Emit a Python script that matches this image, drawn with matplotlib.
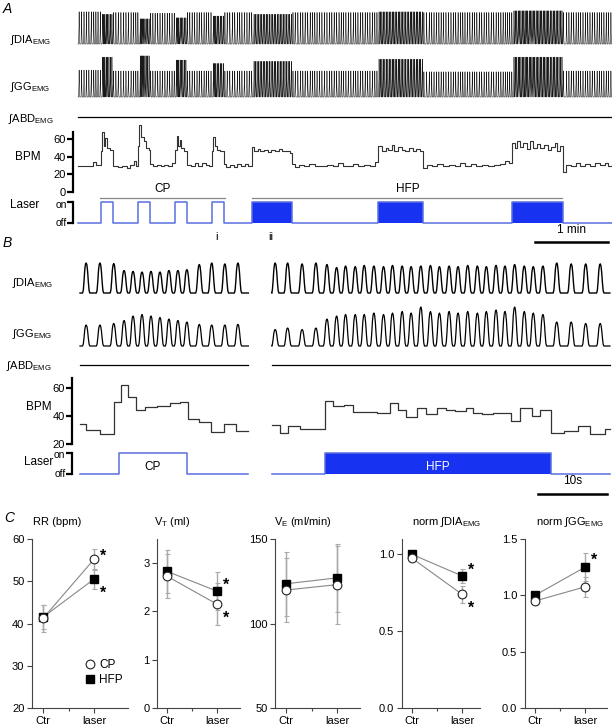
import numpy as np
import matplotlib
matplotlib.use("Agg")
import matplotlib.pyplot as plt
import matplotlib.transforms as mtransforms
from matplotlib.lines import Line2D

W, H = 612, 727

plt.rcParams.update({
    "font.family": ["Liberation Sans", "DejaVu Sans"],
    "font.size": 8,
    "mathtext.fontset": "custom",
    "mathtext.rm": "Liberation Sans",
    "mathtext.it": "Liberation Sans:italic",
    "mathtext.bf": "Liberation Sans:bold",
})

# ---------------- panel A data (time in s) ----------------
A_T_END = 439
A_BPM_T = [0, 12, 15,
           19, 20, 21.5, 22.5, 24, 26,
           29, 33, 36, 40, 43, 46, 48,
           49.5, 50.5, 52, 54, 56, 58,
           59.5, 62, 65, 68, 71, 74, 77,
           80, 81, 82.5, 83.5, 85, 87,
           90, 93, 96, 99, 102, 105, 108,
           110, 111, 112.5, 114, 117,
           120, 122, 125, 128, 131, 134, 137, 140,
           143, 145, 148, 150, 153, 156, 159, 162, 165, 168, 171, 174,
           176, 178, 182, 186, 190, 195, 200, 205, 210, 214, 218, 222, 226, 230, 235, 240, 244,
           247, 250, 253, 255, 258, 260, 263, 266, 269, 272, 275, 278, 281,
           284, 287, 291, 295, 300, 305, 310, 314, 318, 323, 327, 332, 337, 342, 347, 351, 354,
           357, 359, 361, 363, 366, 369, 372, 374, 377, 380, 383, 386, 389, 392, 394, 396,
           399, 401, 405, 409, 413, 417, 421, 425, 429, 433, 436]
A_BPM_V = [30, 34, 31,
           47, 68, 52, 61, 50, 48,
           30, 28, 30, 27, 31, 35, 30,
           52, 76, 62, 58, 50, 48,
           32, 29, 31, 29, 31, 30, 33,
           48, 63, 52, 59, 50, 47,
           31, 30, 33, 30, 33, 31, 30,
           47, 62, 52, 48, 47,
           32, 28, 31, 28, 32, 29, 32, 30,
           51, 47, 49, 46, 48, 45, 48, 46, 49, 46, 47, 44,
           32, 28, 31, 29, 32, 30, 29, 31, 30, 33, 30, 29, 32, 30, 31, 30, 34,
           52, 47, 50, 48, 53, 47, 51, 48, 47, 50, 47, 49, 46,
           27, 31, 30, 32, 29, 31, 30, 33, 30, 32, 30, 31, 30, 31, 32, 35, 33,
           55, 50, 58, 51, 56, 49, 58, 50, 54, 50, 53, 48, 51, 55, 47, 52,
           23, 31, 30, 33, 30, 32, 30, 33, 31, 33, 30]

A_CP_ON = [19, 49.5, 80, 110]
A_CP_OFF = [29, 59.5, 90, 120]
A_HFP_ON = [143, 247, 357]
A_HFP_OFF = [176, 284, 399]

# burst envelopes (relative amplitude), step changes at laser on/off
A_ENV_T = [0, 19, 29, 49.5, 59.5, 80, 90, 110, 120, 143, 176, 247, 284, 357, 399]
A_DIA_ENV = [0.92, 0.85, 0.9, 0.72, 0.88, 0.75, 0.9, 0.8, 0.9, 0.85, 0.9, 0.92, 0.9, 0.95, 0.9]
A_GG_ENV = [0.64, 0.95, 0.62, 0.98, 0.62, 0.88, 0.62, 0.8, 0.62, 0.85, 0.62, 0.9, 0.6, 0.95, 0.62]

# ---------------- panel B data (time in s) ----------------
B_LEFT = (0, 24.4)
B_RIGHT = (27.8, 76.8)
B_DIA_T = [0.9, 2.9, 4.9, 6.4, 7.7, 9.0, 10.3, 11.6, 12.9, 14.2, 15.5, 17.3, 19.1, 21.0, 22.9,
           28.3, 30.1, 32.2, 34.2,
           35.8, 37.2, 38.5, 39.9, 41.2, 42.6, 44.0, 45.3, 46.7, 48.0, 49.4, 50.8,
           52.1, 53.5, 54.8, 56.2, 57.6, 58.9, 60.3, 61.6, 63.0, 64.4, 65.7, 67.1,
           69.1, 71.2, 73.3, 75.4]
B_DIA_A = [1.0, 1.0, 0.98, 0.75, 0.72, 0.7, 0.72, 0.7, 0.75, 0.75, 0.78, 0.95, 1.0, 0.97, 1.0,
           1.0, 1.0, 0.97, 1.0,
           0.95, 0.85, 0.9, 0.88, 0.92, 0.9, 0.88, 0.92, 0.9, 0.88, 0.9, 0.92,
           0.88, 0.9, 0.88, 0.92, 0.9, 0.88, 0.92, 0.9, 0.95, 0.9, 0.88, 0.9,
           1.0, 0.97, 0.97, 0.97]
B_GG_A = [0.7, 0.7, 0.75, 0.85, 1.0, 1.05, 1.0, 0.95, 0.9, 0.85, 0.8, 0.72, 0.7, 0.7, 0.72,
          0.55, 0.6, 0.55, 0.6,
          0.9, 1.0, 1.05, 1.05, 1.05, 1.1, 1.05, 1.1, 1.15, 1.1, 1.3, 1.15,
          1.1, 1.15, 1.1, 1.15, 1.1, 1.15, 1.2, 1.15, 1.3, 1.15, 1.1, 1.05,
          0.8, 0.8, 0.75, 0.75]

B_BPM_LT = [0, 0.9, 2.9, 4.9, 6.0, 6.9, 8.1, 9.4, 11.1, 13.1, 14.5, 15.6, 17.3, 19.0, 20.9, 22.6, 24.4]
B_BPM_LV = [34, 30, 27.4, 50.2, 62.1, 53.8, 44.3, 46.7, 47.1, 49.0, 50.2, 37.6, 35.9, 28.6, 34.0, 29.3, 29.3]
B_BPM_RT = [27.8, 29.0, 30.2, 31.9, 35.5, 36.7, 38.2, 39.5, 43.0, 44.9, 46.1, 47.3, 48.8, 50.2, 51.7,
            53.1, 54.3, 56.0, 57.0, 58.2, 59.9, 62.4, 63.8, 65.5, 66.7, 68.2, 70.1, 72.2, 73.9, 76.1, 76.8]
B_BPM_RV = [33.3, 28.1, 32.9, 30.9, 50.7, 47.1, 47.9, 42.9, 42.4, 49.5, 44.1, 39.3, 45.9, 41.2, 45.9,
            44.1, 43.6, 45.9, 42.4, 41.2, 42.4, 36.4, 45.9, 40.0, 44.1, 28.1, 29.3, 32.9, 27.4, 30.5, 30.5]
B_CP = (5.65, 15.5)
B_HFP = (35.5, 68.3)

# normalised burst glyphs (peak-normalised); B = rounded hump, A = compressed spike
BURST_SHAPE = [0, 0.1, 0.4, 0.78, 0.96, 1.0, 0.93, 0.7, 0.35, 0.08, 0]
A_BURST_SHAPE = [0, 0.25, 0.38, 0.5, 1.0, 0.45, 0.32, 0.2, 0.08, 0]

# ---------------- panel C data ----------------
C_X = [0, 1]
RR_CP, RR_CP_E = [41.2, 55.2], [3.2, 2.5]
RR_HFP, RR_HFP_E = [41.5, 50.5], [2.8, 2.3]
VT_CP, VT_CP_E = [2.73, 2.15], [0.45, 0.43]
VT_HFP, VT_HFP_E = [2.83, 2.42], [0.45, 0.40]
VE_CP, VE_CP_E = [119.8, 123.0], [19, 23]
VE_HFP, VE_HFP_E = [123.5, 127.0], [19, 20]
DIA_CP, DIA_CP_E = [0.975, 0.74], [0.0, 0.055]
DIA_HFP, DIA_HFP_E = [1.0, 0.86], [0.0, 0.045]
GG_CP, GG_CP_E = [0.95, 1.075], [0.0, 0.09]
GG_HFP, GG_HFP_E = [1.0, 1.25], [0.0, 0.125]

LINE_BLUE = "#5b6fe0"
FILL_BLUE = "#1732f0"


def rect(x0, y0, x1, y1):
    return [x0 / W, 1 - y1 / H, (x1 - x0) / W, (y1 - y0) / H]


def step_lookup(ts, vs, t):
    i = np.searchsorted(ts, t, side="right") - 1
    return np.asarray(vs)[np.clip(i, 0, len(vs) - 1)]


def burst_wave(times, amps, dur, t0, t1, shape=BURST_SHAPE):
    shape = np.array(shape)
    u = np.linspace(-0.5, 0.5, len(shape))
    xs, ys = [t0], [0.0]
    for t, a in zip(times, amps):
        xs.extend(t + u * dur)
        ys.extend(a * shape)
    xs.append(t1)
    ys.append(0.0)
    return np.array(xs), np.array(ys)


def bursts_from_rate(ts, vs, t_end):
    out, t = [], 1.0
    while t < t_end - 0.6:
        out.append(t)
        t += 60.0 / step_lookup(ts, vs, t)
    return np.array(out)


def laser_line(ons, offs, t0, t1):
    xs, ys = [t0], [0]
    for a, b in zip(ons, offs):
        xs += [a, a, b, b]
        ys += [0, 1, 1, 0]
    xs.append(t1)
    ys.append(0)
    return xs, ys


def blank(ax, xlim, ylim=(0, 1)):
    ax.set_xlim(*xlim)
    ax.set_ylim(*ylim)
    ax.axis("off")


def side_axis(ax, ticks, labels, lo, hi, fs=8):
    for s in ["top", "right", "bottom"]:
        ax.spines[s].set_visible(False)
    ax.spines["left"].set_bounds(lo, hi)
    ax.spines["left"].set_linewidth(1.6)
    ax.set_xticks([])
    ax.set_yticks(ticks)
    ax.set_yticklabels(labels, fontsize=fs)
    ax.tick_params(axis="y", direction="out", length=4, width=1.6, pad=1)
    ax.patch.set_visible(False)


def laser_axis(ax):
    # bracket-style on/off axis; labels as text so they can sit a little apart
    side_axis(ax, [0, 1], ["", ""], 0, 1)
    tr = mtransforms.blended_transform_factory(ax.transAxes, ax.transData)
    lx = -6.5 / (ax.get_position().width * W)
    ax.text(lx, 1, "on", transform=mtransforms.offset_copy(tr, fig, y=-2.5, units="dots"),
            ha="right", va="center", fontsize=7.5)
    ax.text(lx, 0, "off", transform=tr, ha="right", va="center", fontsize=7.5)


fig = plt.figure(figsize=(W / 100, H / 100), dpi=100)

# ================= panel A =================
A_XL = (-4.1, A_T_END)
a_bt = bursts_from_rate(A_BPM_T, A_BPM_V, A_T_END)

ax = fig.add_axes(rect(73, 9, 612, 44))
x, y = burst_wave(a_bt, step_lookup(A_ENV_T, A_DIA_ENV, a_bt), 1.0, 0, A_T_END, A_BURST_SHAPE)
ax.plot(x, y, color="#1a1a1a", lw=0.4, clip_on=False)
blank(ax, A_XL)

ax = fig.add_axes(rect(73, 55, 612, 97))
x, y = burst_wave(a_bt, step_lookup(A_ENV_T, A_GG_ENV, a_bt), 1.0, 0, A_T_END, A_BURST_SHAPE)
ax.plot(x, y, color="#1a1a1a", lw=0.4, clip_on=False)
blank(ax, A_XL)

ax = fig.add_axes(rect(73, 112, 612, 122))
ax.plot([0, A_T_END], [0.5, 0.5], color="black", lw=0.9)
blank(ax, A_XL)

ax = fig.add_axes(rect(73, 132, 612, 192))
ax.step(A_BPM_T + [A_T_END], A_BPM_V + [A_BPM_V[-1]], where="post",
        color="#333333", lw=0.8, clip_on=False)
ax.set_xlim(*A_XL)
ax.set_ylim(0, 68)
side_axis(ax, [0, 20, 40, 60], ["0", "20", "40", "60"], 0, 68)

ax = fig.add_axes(rect(73, 202, 612, 223))
lx, ly = laser_line(A_CP_ON + A_HFP_ON, A_CP_OFF + A_HFP_OFF, 0, A_T_END)
for a, b in zip(A_HFP_ON, A_HFP_OFF):
    ax.fill_between([a, b], 0, 1, color=FILL_BLUE, lw=0)
ax.plot(lx, ly, color=LINE_BLUE, lw=1.1, clip_on=False)
ax.set_xlim(*A_XL)
ax.set_ylim(0, 1)
laser_axis(ax)

ax = fig.add_axes(rect(73, 180, 612, 200))
blank(ax, A_XL, (0, 1))
ax.plot([A_CP_ON[0] - 1, A_CP_OFF[-1] + 1], [0.1, 0.1], color="#888888", lw=0.9)
ax.plot([A_HFP_ON[0], A_HFP_OFF[-1] - 1.5], [0.1, 0.1], color="#888888", lw=0.9)
ax.text(np.mean([A_CP_ON[0], A_CP_OFF[-1]]), 0.55, "CP", ha="center", va="center", fontsize=8.5)
ax.text(np.mean([A_HFP_ON[0], A_HFP_OFF[-1]]), 0.55, "HFP", ha="center", va="center", fontsize=8.5)

ax = fig.add_axes(rect(73, 226, 612, 246))
blank(ax, A_XL, (0, 1))
ax.plot([375.5, 375.5 + 60], [0.2, 0.2], color="black", lw=1.8)
ax.text(375.5 + 30, 0.8, "1 min", ha="center", va="center", fontsize=8.5)
ax.text(114.2, 0.45, "i", ha="center", va="center", fontsize=8)
ax.text(158.6, 0.45, "ii", ha="center", va="center", fontsize=8)

fig.text(3 / W, 1 - 9 / H, "A", fontsize=10, style="italic", va="center")
fig.text(10 / W, 1 - 40 / H, "∫DIA$_\\mathrm{EMG}$", fontsize=8, va="center")
fig.text(10 / W, 1 - 87 / H, "∫GG$_\\mathrm{EMG}$", fontsize=8, va="center")
fig.text(8 / W, 1 - 119 / H, "∫ABD$_\\mathrm{EMG}$", fontsize=8, va="center")
fig.text(15 / W, 1 - 157 / H, "BPM", fontsize=8.5, va="center")
fig.text(10 / W, 1 - 205 / H, "Laser", fontsize=8.5, va="center")

# ================= panel B =================
B_XL = (-1.16, 77.1)
b_dia_t = np.array(B_DIA_T)
segs = [B_LEFT, B_RIGHT]

ax = fig.add_axes(rect(72, 263, 612, 293))
for s0, s1 in segs:
    m = (b_dia_t > s0) & (b_dia_t < s1)
    x, y = burst_wave(b_dia_t[m], np.array(B_DIA_A)[m], 1.05, s0, s1)
    ax.plot(x, y, color="black", lw=1.0, clip_on=False)
blank(ax, B_XL)

ax = fig.add_axes(rect(72, 316, 612, 346))
for s0, s1 in segs:
    m = (b_dia_t > s0) & (b_dia_t < s1)
    x, y = burst_wave(b_dia_t[m], np.array(B_GG_A)[m], 1.05, s0, s1)
    ax.plot(x, y, color="black", lw=0.9, clip_on=False)
blank(ax, B_XL)

ax = fig.add_axes(rect(72, 360, 612, 370))
for s0, s1 in segs:
    ax.plot([s0, s1], [0.5, 0.5], color="black", lw=0.9)
blank(ax, B_XL)

ax = fig.add_axes(rect(72, 378, 612, 444))
ax.step(B_BPM_LT, B_BPM_LV, where="post", color="#333333", lw=0.9)
ax.step(B_BPM_RT, B_BPM_RV, where="post", color="#333333", lw=0.9)
ax.set_xlim(*B_XL)
ax.set_ylim(20, 20 + 66 / 1.4)
side_axis(ax, [20, 40, 60], ["20", "40", "60"], 20, 20 + 66 / 1.4)

ax = fig.add_axes(rect(72, 453, 612, 474))
ax.fill_between(list(B_HFP), 0, 1, color=FILL_BLUE, lw=0)
for (s0, s1), (on, off) in zip(segs, [B_CP, B_HFP]):
    ax.plot([s0, on, on, off, off, s1], [0, 0, 1, 1, 0, 0], color=LINE_BLUE, lw=1.1, clip_on=False)
ax.text(np.mean(B_CP), 0.35, "CP", ha="center", va="center", fontsize=8.5)
ax.text(np.mean(B_HFP), 0.35, "HFP", ha="center", va="center", fontsize=8.5, color="white")
ax.set_xlim(*B_XL)
ax.set_ylim(0, 1)
laser_axis(ax)

ax = fig.add_axes(rect(72, 476, 612, 498))
blank(ax, B_XL, (0, 1))
ax.plot([66.4, 76.4], [0.2, 0.2], color="black", lw=1.8)
ax.text(71.4, 0.75, "10s", ha="center", va="center", fontsize=8.5)

fig.text(3 / W, 1 - 243 / H, "B", fontsize=10, style="italic", va="center")
fig.text(12 / W, 1 - 283 / H, "∫DIA$_\\mathrm{EMG}$", fontsize=8, va="center")
fig.text(12 / W, 1 - 334 / H, "∫GG$_\\mathrm{EMG}$", fontsize=8, va="center")
fig.text(6 / W, 1 - 366 / H, "∫ABD$_\\mathrm{EMG}$", fontsize=8, va="center")
fig.text(26 / W, 1 - 407 / H, "BPM", fontsize=8.5, va="center")
fig.text(24 / W, 1 - 462 / H, "Laser", fontsize=8.5, va="center")

# ================= panel C =================
panels = [
    dict(px=(32, 128), ctr=43, lab=94, ylim=(20, 60), ticks=[20, 30, 40, 50, 60],
         cp=(RR_CP, RR_CP_E), hfp=(RR_HFP, RR_HFP_E), title="RR (bpm)", tx=57,
         stars=[(1.18, 56.7), (1.18, 47.9)], fmt="{:.0f}"),
    dict(px=(157, 240), ctr=167, lab=217, ylim=(0, 3.5), ticks=[0, 1, 2, 3],
         cp=(VT_CP, VT_CP_E), hfp=(VT_HFP, VT_HFP_E), title="V$_\\mathrm{T}$ (ml)", tx=172,
         stars=[(1.18, 2.61), (1.18, 1.93)], fmt="{:.0f}"),
    dict(px=(275, 360), ctr=286, lab=337, ylim=(50, 150), ticks=[50, 100, 150],
         cp=(VE_CP, VE_CP_E), hfp=(VE_HFP, VE_HFP_E), title="V$_\\mathrm{E}$ (ml/min)", tx=303,
         stars=[], fmt="{:.0f}"),
    dict(px=(402, 480), ctr=412, lab=462, ylim=(0, 1.1), ticks=[0, 0.5, 1.0],
         cp=(DIA_CP, DIA_CP_E), hfp=(DIA_HFP, DIA_HFP_E), title="norm ∫DIA$_\\mathrm{EMG}$", tx=447,
         stars=[(1.18, 0.92), (1.18, 0.675)], fmt="{:.1f}"),
    dict(px=(525, 607), ctr=535, lab=585, ylim=(0, 1.5), ticks=[0, 0.5, 1.0, 1.5],
         cp=(GG_CP, GG_CP_E), hfp=(GG_HFP, GG_HFP_E), title="norm ∫GG$_\\mathrm{EMG}$", tx=570,
         stars=[(1.18, 1.34)], fmt="{:.1f}"),
]

for k, p in enumerate(panels):
    x0, x1 = p["px"]
    ax = fig.add_axes(rect(x0, 539, x1, 708))
    u = p["lab"] - p["ctr"]
    ax.set_xlim((x0 - p["ctr"]) / u, (x1 - p["ctr"]) / u)
    ax.set_ylim(*p["ylim"])
    for s in ["top", "right"]:
        ax.spines[s].set_visible(False)
    for s in ["left", "bottom"]:
        ax.spines[s].set_color("#444444")
        ax.spines[s].set_linewidth(0.8)
    ax.set_xticks(C_X)
    ax.set_xticklabels(["Ctr", "laser"], fontsize=8)
    ax.set_xticks([0.5], minor=True)
    ax.set_yticks(p["ticks"])
    ax.set_yticklabels([p["fmt"].format(t) for t in p["ticks"]], fontsize=8)
    ax.tick_params(direction="out", length=3.5, width=0.8, color="#444444", pad=2)
    ax.tick_params(which="minor", direction="out", length=2.5, width=0.8, color="#444444")
    ax.patch.set_visible(False)

    (hv, he), (cv, ce) = p["hfp"], p["cp"]
    ax.errorbar(C_X, hv, yerr=he, fmt="none", ecolor="#aaaaaa", elinewidth=1.0,
                capsize=1.8, capthick=0.8, zorder=2)
    ax.errorbar(C_X, cv, yerr=ce, fmt="none", ecolor="#aaaaaa", elinewidth=1.0,
                capsize=1.8, capthick=0.8, zorder=2)
    ax.plot(C_X, hv, color="#888888", lw=0.8, zorder=3)
    ax.plot(C_X, cv, color="#888888", lw=0.8, zorder=3)
    ax.plot(C_X, hv, ls="none", marker="s", ms=5.3, mfc="black", mec="black", zorder=4)
    ax.plot(C_X, cv, ls="none", marker="o", ms=6.3, mfc="white", mec="#222222", mew=0.8, zorder=5)
    star_tr = mtransforms.offset_copy(ax.transData, fig, y=-3.5, units="dots")
    for sx, sy in p["stars"]:
        ax.text(sx, sy, "*", ha="center", va="center", fontsize=11.5, fontweight="bold",
                transform=star_tr)
    fig.text(p["tx"] / W, 1 - 522 / H, p["title"], ha="center", va="center", fontsize=8)

    if k == 0:
        hs = [Line2D([], [], ls="none", marker="o", ms=6.3, mfc="white", mec="#222222", mew=0.8),
              Line2D([], [], ls="none", marker="s", ms=5.3, mfc="black", mec="black")]
        ax.legend(hs, ["CP", "HFP"], loc="center left", bbox_to_anchor=(0.49, 0.21),
                  frameon=False, handlelength=0.8, handletextpad=0.4, labelspacing=0.2,
                  borderpad=0, fontsize=8.5)

fig.text(4 / W, 1 - 518 / H, "C", fontsize=10, style="italic", va="center")

fig.savefig("out.png", dpi=100)
